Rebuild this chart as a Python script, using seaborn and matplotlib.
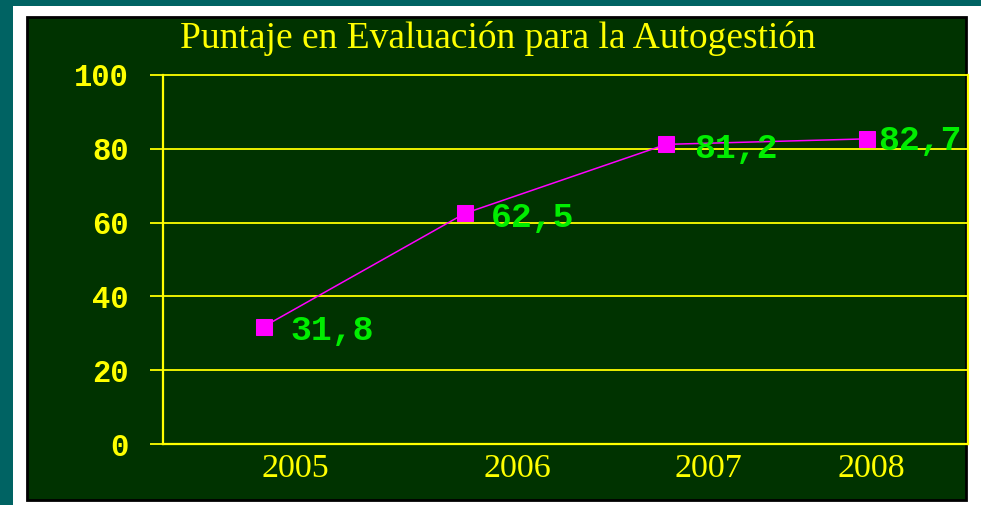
import matplotlib
matplotlib.use("Agg")
import matplotlib.pyplot as plt
import matplotlib.patches as mpatches
import seaborn as sns
import pandas as pd
import numpy as np

# ---- data ----
years = ["2005", "2006", "2007", "2008"]
scores = [31.8, 62.5, 81.2, 82.7]
score_labels = ["31,8", "62,5", "81,2", "82,7"]
yticks = [0, 20, 40, 60, 80, 100]
title = "Puntaje en Evaluación para la Autogestión"

# ---- style ----
TEAL = "#006363"
PANEL = "#003300"
YELLOW = "#FFFF00"
MAGENTA = "#FF00FF"
GREEN = "#00EE00"
MONO = ["Liberation Mono", "DejaVu Sans Mono"]

sns.set_style("white")
plt.rcParams["font.family"] = ["Liberation Serif", "DejaVu Serif"]

W, H = 981, 505
fig = plt.figure(figsize=(W / 100, H / 100), dpi=100)
fig.patch.set_facecolor(TEAL)

def px_rect(x0, y0, x1, y1):
    return (x0 / W, 1 - y1 / H, (x1 - x0) / W, (y1 - y0) / H)

# white card
x, y, w, h = px_rect(13, 6, 981, 505)
fig.patches.append(mpatches.Rectangle((x, y), w, h, transform=fig.transFigure,
                                      facecolor="white", edgecolor="none", zorder=-20))
# dark green panel with black frame
x, y, w, h = px_rect(27, 17, 966, 500)
fig.patches.append(mpatches.Rectangle((x, y), w, h, transform=fig.transFigure,
                                      facecolor=PANEL, edgecolor="black", linewidth=2, zorder=-10))

ax = fig.add_axes(px_rect(163, 75, 968, 444))
ax.set_facecolor("none")
ax.set_zorder(5)

df = pd.DataFrame({"year": years, "score": scores})
sns.lineplot(data=df, x="year", y="score", ax=ax, color=MAGENTA, linewidth=1.1,
             marker="s", markersize=12, markeredgecolor=MAGENTA, zorder=5)

ax.set_xlim(-0.5, len(years) - 0.5)
ax.set_ylim(0, 100)
ax.set_xlabel("")
ax.set_ylabel("")

# grid
ax.set_yticks(yticks)
ax.set_yticklabels([str(t) for t in yticks], family=MONO,
                   fontsize=22, color=YELLOW, fontweight="bold")
ax.tick_params(axis="y", left=True, length=9.5, width=1.3, color=YELLOW, pad=15,
               direction="out")
for t in yticks[1:]:
    ax.axhline(t, color=YELLOW, linewidth=1.3, zorder=1, clip_on=False)

label_shift = [0.16, 0.26, 0.21, 0.02]
ax.set_xticks([i + s for i, s in enumerate(label_shift)])
ax.set_xticklabels(years, fontsize=24.5, color=YELLOW)
ax.tick_params(axis="x", bottom=False, length=0, pad=7)

for side in ["left", "bottom", "right"]:
    ax.spines[side].set_color(YELLOW)
    ax.spines[side].set_linewidth(1.6)
ax.spines["top"].set_visible(False)

# data labels
offsets = [(19, -3), (19, -3), (20, -3), (8, -1)]
for i, (v, lab) in enumerate(zip(scores, score_labels)):
    ax.annotate(lab, (i, v), xytext=offsets[i], textcoords="offset points",
                ha="left", va="center", color=GREEN, fontsize=25, fontweight="bold",
                family=MONO, zorder=6)

fig.text(498 / W, 1 - 38 / H, title, ha="center", va="center", color=YELLOW, fontsize=27)

fig.savefig("out.png", dpi=100, facecolor=fig.get_facecolor())
